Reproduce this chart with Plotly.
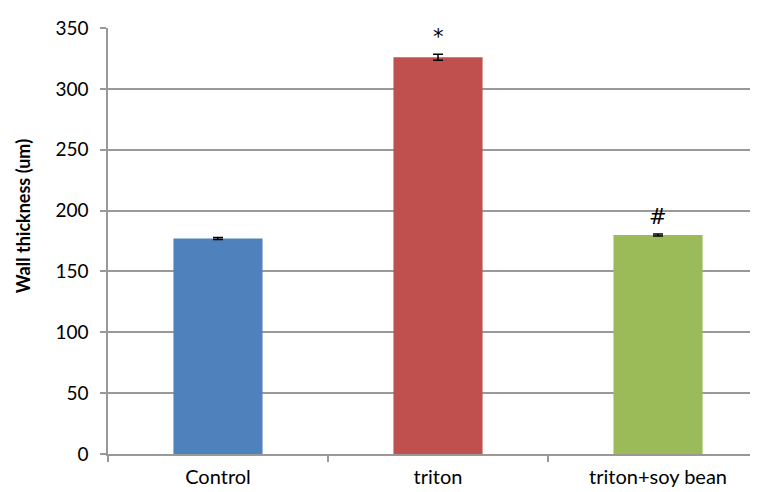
import plotly.graph_objects as go

categories = ["Control", "triton", "triton+soy bean"]
values = [177, 326, 180]
errors = [0.8, 2.5, 0.8]
colors = ["#4F81BD", "#C0504D", "#9BBB59"]
marks = ["", "*", "#"]
y_title = "Wall thickness (um)"

fig = go.Figure()
fig.add_trace(go.Bar(
    x=categories, y=values,
    marker=dict(color=colors, line=dict(width=0)),
    width=0.405,
    error_y=dict(type="data", array=errors, visible=True, color="black", thickness=1.5, width=5),
))

for c, v, e, m in zip(categories, values, errors, marks):
    if m:
        fig.add_annotation(x=c, y=v + e, text=m, showarrow=False, yanchor="bottom",
                           yshift=3, font=dict(family="DejaVu Sans, sans-serif", size=21, color="black"))

fig.add_annotation(xref="paper", yref="paper", x=0, y=0.558, xshift=-85,
                   xanchor="center", yanchor="middle", textangle=-90, showarrow=False,
                   text="<b>" + y_title + "</b>",
                   font=dict(family="Lato, Liberation Sans, sans-serif", size=18, color="black"))

fig.update_layout(
    width=758, height=492,
    margin=dict(l=100, r=8, t=14, b=46),
    plot_bgcolor="white", paper_bgcolor="white",
    showlegend=False,
    font=dict(family="Lato, Liberation Sans, sans-serif", size=19, color="black"),
)
fig.update_xaxes(
    type="category", range=[-0.5, 2.4545],
    showline=True, linecolor="#999999", linewidth=1.5,
    ticks="outside", tickson="boundaries", ticklen=6, tickcolor="#999999", tickwidth=1.5,
    showgrid=False, tickfont=dict(size=20), ticklabelstandoff=4,
)
fig.update_yaxes(
    range=[0, 350], dtick=50,
    showline=True, linecolor="#999999", linewidth=1.5,
    ticks="outside", ticklen=6, tickcolor="#999999", tickwidth=1.5,
    showgrid=True, gridcolor="#999999", gridwidth=1.5,
    zeroline=False,
    tickfont=dict(size=19), ticklabelstandoff=8,
)
fig.write_html("out.html")
